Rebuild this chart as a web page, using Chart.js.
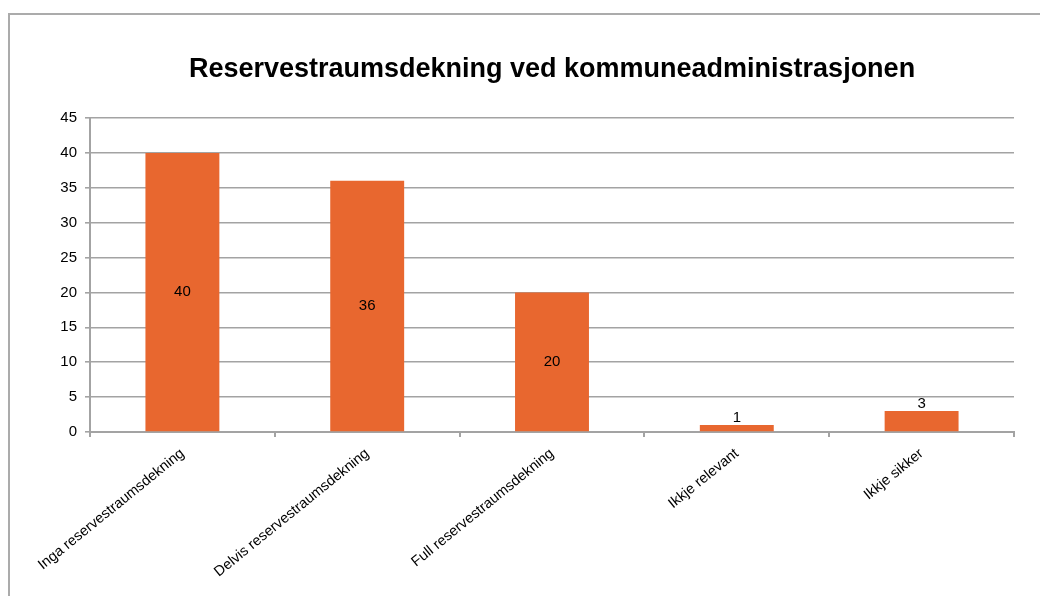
<!DOCTYPE html>
<html>
<head>
<meta charset="utf-8">
<script src="https://cdn.jsdelivr.net/npm/chart.js@4/dist/chart.umd.min.js"></script>
<style>
  html, body { margin: 0; padding: 0; background: #fff; overflow: hidden; }
  #frame {
    position: absolute; left: 8px; top: 13px;
    width: 1100px; height: 700px;
    border: 2px solid #ababab;
  }
  #wrap { position: absolute; left: 0; top: 0; width: 1040px; height: 596px; }
</style>
</head>
<body>
<div id="frame"></div>
<div id="wrap"><canvas id="chart" width="1040" height="596"></canvas></div>
<script>
var categories = [
  "Inga reservestraumsdekning",
  "Delvis reservestraumsdekning",
  "Full reservestraumsdekning",
  "Ikkje relevant",
  "Ikkje sikker"
];
var counts = [40, 36, 20, 1, 3];
var yTicks = [0, 5, 10, 15, 20, 25, 30, 35, 40, 45];

var fontFamily = '"Liberation Sans", Arial, sans-serif';
var gridGray = "#a3a3a3";

// value labels: centred in the bar, or just above it if the bar is too short
var valueLabels = {
  id: "valueLabels",
  afterDatasetsDraw: function (chart) {
    var ctx = chart.ctx;
    var meta = chart.getDatasetMeta(0);
    ctx.save();
    ctx.font = "15px " + fontFamily;
    ctx.fillStyle = "#000";
    ctx.textAlign = "center";
    meta.data.forEach(function (bar, i) {
      var h = bar.base - bar.y;
      if (h > 30) {
        ctx.textBaseline = "middle";
        ctx.fillText(counts[i], bar.x, bar.y + h / 2);
      } else {
        ctx.textBaseline = "bottom";
        ctx.fillText(counts[i], bar.x, bar.y);
      }
    });
    ctx.restore();
  }
};

new Chart(document.getElementById("chart"), {
  type: "bar",
  data: {
    labels: categories,
    datasets: [{
      data: counts,
      backgroundColor: "#e8672f",
      borderWidth: 0,
      categoryPercentage: 1,
      barPercentage: 0.4
    }]
  },
  options: {
    responsive: false,
    animation: false,
    layout: { padding: { left: 0, right: 26, top: 0, bottom: 0 } },
    plugins: {
      legend: { display: false },
      tooltip: { enabled: false },
      title: {
        display: true,
        fullSize: false,
        text: "Reservestraumsdekning ved kommuneadministrasjonen",
        color: "#000",
        font: { family: fontFamily, size: 27, weight: "bold", lineHeight: 1.2 },
        padding: { top: 53, bottom: 32.6 }
      }
    },
    scales: {
      x: {
        offset: true,
        grid: {
          offset: true,
          drawOnChartArea: false,
          drawTicks: true,
          tickLength: 5,
          color: gridGray,
          lineWidth: 2
        },
        border: { color: gridGray, width: 2 },
        ticks: {
          color: "#000",
          font: { family: fontFamily, size: 14.5 },
          minRotation: 39,
          maxRotation: 39,
          autoSkip: false,
          padding: 8
        },
        afterFit: function (scale) { scale.height = 164; }
      },
      y: {
        min: 0,
        max: 45,
        afterBuildTicks: function (scale) {
          scale.ticks = yTicks.map(function (v) { return { value: v }; });
        },
        grid: {
          color: gridGray,
          lineWidth: 1.6,
          tickLength: 5
        },
        border: { color: gridGray, width: 2 },
        ticks: {
          color: "#000",
          font: { family: fontFamily, size: 15 },
          padding: 8
        },
        afterFit: function (scale) { scale.width = 90; }
      }
    }
  },
  plugins: [valueLabels]
});
</script>
</body>
</html>
